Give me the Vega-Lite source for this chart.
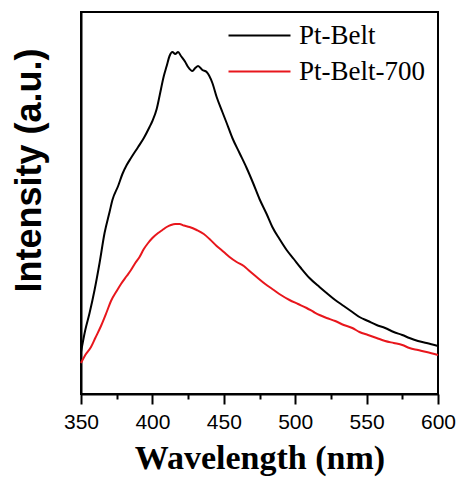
{
  "$schema": "https://vega.github.io/schema/vega-lite/v6.json",
  "autosize": {"type": "none"},
  "padding": {"left": 81, "top": 12, "right": 21, "bottom": 85},
  "width": 357,
  "height": 382,
  "background": "white",
  "config": {
    "view": {"stroke": "black", "strokeWidth": 2},
    "axis": {"grid": false}
  },
  "data": {"values": [
    {"s":"Pt-Belt","w":350,"v":42},{"s":"Pt-Belt","w":353,"v":64},{"s":"Pt-Belt","w":356,"v":81},{"s":"Pt-Belt","w":359.5,"v":104},
    {"s":"Pt-Belt","w":363,"v":131},{"s":"Pt-Belt","w":366.5,"v":161},{"s":"Pt-Belt","w":370,"v":182},{"s":"Pt-Belt","w":372,"v":194},
    {"s":"Pt-Belt","w":376,"v":208},{"s":"Pt-Belt","w":379,"v":220},{"s":"Pt-Belt","w":382,"v":229},{"s":"Pt-Belt","w":385,"v":236},
    {"s":"Pt-Belt","w":390,"v":247},{"s":"Pt-Belt","w":394,"v":256},{"s":"Pt-Belt","w":398,"v":267},{"s":"Pt-Belt","w":400,"v":273},
    {"s":"Pt-Belt","w":403,"v":285},{"s":"Pt-Belt","w":405,"v":298},{"s":"Pt-Belt","w":408,"v":318},{"s":"Pt-Belt","w":410,"v":328},
    {"s":"Pt-Belt","w":412,"v":338},{"s":"Pt-Belt","w":414,"v":342},{"s":"Pt-Belt","w":416,"v":340},{"s":"Pt-Belt","w":418,"v":342},
    {"s":"Pt-Belt","w":420,"v":338},{"s":"Pt-Belt","w":423,"v":332},{"s":"Pt-Belt","w":425,"v":327},{"s":"Pt-Belt","w":428,"v":323},
    {"s":"Pt-Belt","w":430,"v":326},{"s":"Pt-Belt","w":432,"v":328},{"s":"Pt-Belt","w":435,"v":324},{"s":"Pt-Belt","w":438,"v":322},
    {"s":"Pt-Belt","w":442,"v":311},{"s":"Pt-Belt","w":445,"v":297},{"s":"Pt-Belt","w":449,"v":282},{"s":"Pt-Belt","w":452,"v":271},
    {"s":"Pt-Belt","w":456,"v":256},{"s":"Pt-Belt","w":461,"v":241},{"s":"Pt-Belt","w":466,"v":226},{"s":"Pt-Belt","w":470.5,"v":211},
    {"s":"Pt-Belt","w":475,"v":195},{"s":"Pt-Belt","w":480,"v":180},{"s":"Pt-Belt","w":484,"v":167},{"s":"Pt-Belt","w":489,"v":155},
    {"s":"Pt-Belt","w":494,"v":144},{"s":"Pt-Belt","w":499,"v":135},{"s":"Pt-Belt","w":504,"v":126},{"s":"Pt-Belt","w":510,"v":116},
    {"s":"Pt-Belt","w":517,"v":107},{"s":"Pt-Belt","w":522,"v":101},{"s":"Pt-Belt","w":528,"v":94},{"s":"Pt-Belt","w":534,"v":88},
    {"s":"Pt-Belt","w":540,"v":82},{"s":"Pt-Belt","w":545,"v":77},{"s":"Pt-Belt","w":551,"v":73},{"s":"Pt-Belt","w":557,"v":69},
    {"s":"Pt-Belt","w":563,"v":66},{"s":"Pt-Belt","w":569,"v":62},{"s":"Pt-Belt","w":575,"v":59},{"s":"Pt-Belt","w":580,"v":56},
    {"s":"Pt-Belt","w":586,"v":53},{"s":"Pt-Belt","w":592,"v":51},{"s":"Pt-Belt","w":600,"v":48},
    {"s":"Pt-Belt-700","w":350,"v":31},{"s":"Pt-Belt-700","w":353,"v":39},{"s":"Pt-Belt-700","w":357,"v":47},{"s":"Pt-Belt-700","w":360,"v":56},
    {"s":"Pt-Belt-700","w":364,"v":68},{"s":"Pt-Belt-700","w":368,"v":82},{"s":"Pt-Belt-700","w":371,"v":93},{"s":"Pt-Belt-700","w":375,"v":103},
    {"s":"Pt-Belt-700","w":378,"v":110},{"s":"Pt-Belt-700","w":382,"v":118},{"s":"Pt-Belt-700","w":385,"v":124},{"s":"Pt-Belt-700","w":388,"v":131},
    {"s":"Pt-Belt-700","w":391,"v":137},{"s":"Pt-Belt-700","w":394,"v":145},{"s":"Pt-Belt-700","w":397,"v":151},{"s":"Pt-Belt-700","w":400,"v":156},
    {"s":"Pt-Belt-700","w":404,"v":161},{"s":"Pt-Belt-700","w":407,"v":164},{"s":"Pt-Belt-700","w":410,"v":167},{"s":"Pt-Belt-700","w":413,"v":169},
    {"s":"Pt-Belt-700","w":416,"v":170},{"s":"Pt-Belt-700","w":419,"v":170},{"s":"Pt-Belt-700","w":422,"v":168.5},{"s":"Pt-Belt-700","w":426,"v":167},
    {"s":"Pt-Belt-700","w":431,"v":164},{"s":"Pt-Belt-700","w":436,"v":160},{"s":"Pt-Belt-700","w":440,"v":155},{"s":"Pt-Belt-700","w":445,"v":148},
    {"s":"Pt-Belt-700","w":450,"v":142},{"s":"Pt-Belt-700","w":454,"v":137},{"s":"Pt-Belt-700","w":459,"v":132},{"s":"Pt-Belt-700","w":464,"v":128},
    {"s":"Pt-Belt-700","w":468,"v":123},{"s":"Pt-Belt-700","w":473,"v":117},{"s":"Pt-Belt-700","w":479,"v":110},{"s":"Pt-Belt-700","w":485,"v":104},
    {"s":"Pt-Belt-700","w":490,"v":99},{"s":"Pt-Belt-700","w":496,"v":94},{"s":"Pt-Belt-700","w":502,"v":90},{"s":"Pt-Belt-700","w":508,"v":86},
    {"s":"Pt-Belt-700","w":513,"v":82},{"s":"Pt-Belt-700","w":517,"v":79},{"s":"Pt-Belt-700","w":522,"v":76},{"s":"Pt-Belt-700","w":528,"v":73},
    {"s":"Pt-Belt-700","w":534,"v":69},{"s":"Pt-Belt-700","w":540,"v":66},{"s":"Pt-Belt-700","w":545,"v":62},{"s":"Pt-Belt-700","w":551,"v":59},
    {"s":"Pt-Belt-700","w":557,"v":56},{"s":"Pt-Belt-700","w":563,"v":53},{"s":"Pt-Belt-700","w":569,"v":51},{"s":"Pt-Belt-700","w":575,"v":49},
    {"s":"Pt-Belt-700","w":580,"v":46},{"s":"Pt-Belt-700","w":586,"v":44},{"s":"Pt-Belt-700","w":592,"v":42},{"s":"Pt-Belt-700","w":600,"v":39}
  ]},
  "mark": {"type": "line", "strokeWidth": 2, "interpolate": "monotone"},
  "encoding": {
    "x": {
      "field": "w", "type": "quantitative",
      "scale": {"domain": [350, 600], "nice": false, "zero": false},
      "axis": {
        "values": [350, 375, 400, 425, 450, 475, 500, 525, 550, 575, 600],
        "labelExpr": "datum.value % 50 === 0 ? datum.label : ''",
        "labelOverlap": false,
        "labelFlush": false,
        "tickSize": {"condition": {"test": "datum.value % 50 === 0", "value": 10}, "value": 5},
        "tickWidth": 2, "tickColor": "black",
        "domainColor": "black", "domainWidth": 2,
        "labelFont": "Liberation Sans", "labelFontSize": 21, "labelColor": "black", "labelPadding": 7,
        "title": "Wavelength (nm)",
        "titleFont": "Liberation Serif", "titleFontSize": 34, "titleFontWeight": "bold", "titleColor": "black",
        "titleY": 74, "titleBaseline": "alphabetic"
      }
    },
    "y": {
      "field": "v", "type": "quantitative",
      "scale": {"domain": [0, 382], "nice": false},
      "axis": {
        "ticks": false, "labels": false,
        "domainColor": "black", "domainWidth": 2,
        "title": "Intensity (a.u.)",
        "titleFont": "Liberation Sans", "titleFontSize": 36, "titleFontWeight": "bold", "titleColor": "black",
        "titleX": -52, "titleY": 158, "titleAngle": -90, "titleAlign": "center", "titleBaseline": "middle"
      }
    },
    "color": {
      "field": "s", "type": "nominal",
      "scale": {"domain": ["Pt-Belt", "Pt-Belt-700"], "range": ["black", "#e8161c"]},
      "legend": {
        "orient": "none", "legendX": 165, "legendY": 10, "title": null,
        "symbolType": "M-3,0H3", "symbolSize": 427, "symbolStrokeWidth": 2,
        "labelFont": "Liberation Serif", "labelFontSize": 27, "labelColor": "black",
        "labelOffset": 26, "rowPadding": 8, "padding": 0, "labelLimit": 300
      }
    }
  }
}
